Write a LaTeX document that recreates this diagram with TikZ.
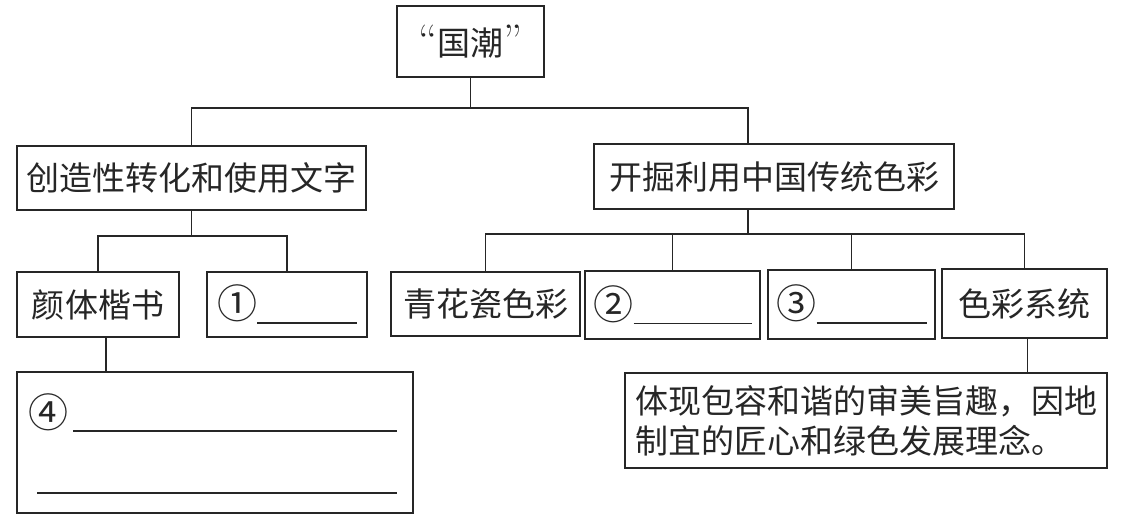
\documentclass[tikz,border=0pt]{standalone}
\usepackage{fontspec}
\newfontfamily\cjk{Noto Sans CJK SC}
\newcommand\quan[1]{{\fontsize{20pt}{20pt}\selectfont #1}}
\newcommand\yin[1]{{\rmfamily\fontsize{22pt}{20pt}\selectfont #1}}
\begin{document}
\begin{tikzpicture}[x=0.5pt, y=-0.5pt, line width=0.9pt,
  every node/.style={font=\cjk\fontsize{16.5pt}{20pt}\selectfont, text=black!85},
  cell/.style={draw=black!85, inner sep=0pt, align=center},
  blank/.style={draw=black!85, line width=0.9pt}]
\useasboundingbox (0,0) rectangle (1122,516);
% top
\node[cell,minimum width=73.5pt,minimum height=35.5pt] (chao) at (470.5,41.5) {\yin{“}国潮\yin{”}};
\node[cell,minimum width=174.5pt,minimum height=32pt] (wenzi) at (191.5,178) {创造性转化和使用文字};
\node[cell,minimum width=180pt,minimum height=32.5pt] (secai) at (774,176.5) {开掘利用中国传统色彩};
% third row
\node[cell,minimum width=81pt,minimum height=32.5pt] (yan) at (98,304.5) {颜体楷书};
\node[cell,minimum width=80pt,minimum height=32.5pt] (kong1) at (287,304.5) {\quan{①}\rule[-2.5pt]{50pt}{0.9pt}};
\node[cell,minimum width=94.5pt,minimum height=32pt] (qinghua) at (485.5,304) {青花瓷色彩};
\node[cell,minimum width=87.5pt,minimum height=34pt] (kong2) at (672.5,305) {\quan{②}\rule[-2.5pt]{59pt}{0.9pt}};
\node[cell,minimum width=83.5pt,minimum height=34.5pt] (kong3) at (851.5,304.5) {\quan{③}\rule[-2.5pt]{55pt}{0.9pt}};
\node[cell,minimum width=82.5pt,minimum height=34.5pt] (xitong) at (1024.5,303.5) {色彩系统};
% bottom
\node[cell,minimum width=198pt,minimum height=70.5pt] (kong4) at (215,442.5) {};
\node (n4) at (48,412) {\quan{④}};
\draw[blank] (73,431) -- (397,431);
\draw[blank] (37,493) -- (397,493);
\node[cell,minimum width=241pt,minimum height=47.5pt,align=left] (linian) at (866,420.5) {体现包容和谐的审美旨趣，因地\\制宜的匠心和绿色发展理念。};
% connectors
\coordinate (bus0) at (470.5,108);
\coordinate (bus1) at (191.5,236);
\coordinate (bus2) at (748,234);
\draw[black!85] (chao.south) -- (bus0);
\draw[black!85] (wenzi.north) |- (bus0) -| ([xshift=-13pt]secai.north);
\draw[black!85] (wenzi.south) -- (bus1);
\draw[black!85] (yan.north) |- (bus1) -| (kong1.north);
\draw[black!85] ([xshift=-13pt]secai.south) -- (bus2);
\draw[black!85] (qinghua.north) |- (bus2) -| (xitong.north);
\draw[black!85] (kong2.north) -- (kong2.north |- bus2);
\draw[black!85] (kong3.north) -- (kong3.north |- bus2);
\draw[black!85] ([xshift=4pt]yan.south) -- ([xshift=4pt]yan.south |- kong4.north);
\draw[black!85] ([xshift=1.5pt]xitong.south) -- ([xshift=1.5pt]xitong.south |- linian.north);
\end{tikzpicture}
\end{document}
